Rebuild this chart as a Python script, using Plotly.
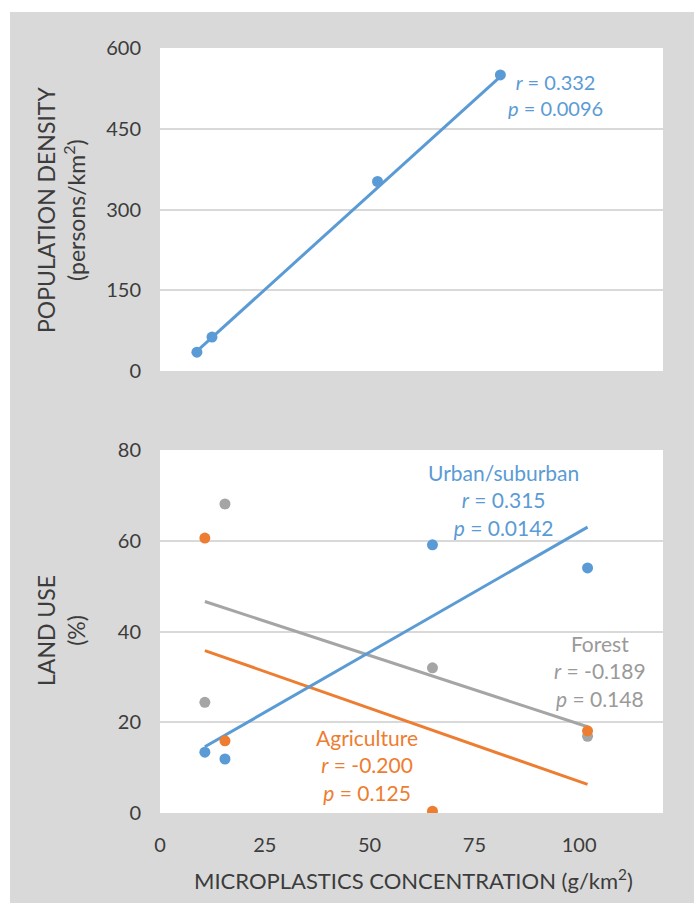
import plotly.graph_objects as go

# ---------------- data ----------------
# Top panel: population density vs microplastics
pop_x = [8.8, 12.4, 51.9, 81.2]
pop_y = [35, 63, 352, 550]
pop_trend_x = [8.8, 81.2]
pop_trend_y = [37, 547]

# Bottom panel: land use vs microplastics
land_x = [10.7, 15.5, 65.0, 102.0]
urban_y = [13.4, 11.9, 59.1, 54.0]
forest_y = [24.4, 68.1, 32.0, 16.9]
agri_y = [60.6, 15.9, 0.4, 18.1]

trend_x = [10.7, 102.0]
urban_trend_y = [14.6, 63.0]
forest_trend_y = [46.6, 19.0]
agri_trend_y = [35.8, 6.3]

x_ticks = [0, 25, 50, 75, 100]
pop_ticks = [0, 150, 300, 450, 600]
land_ticks = [0, 20, 40, 60, 80]

BLUE = "#5b9bd5"
ORANGE = "#ed7d31"
GRAY = "#a5a5a5"
TXT = "#3c3c3c"
FONT = "Lato"

# ---------------- figure ----------------
W, H = 694, 903
ML, MR, MT, MB = 160, 31, 48, 90
PW = W - ML - MR
PH = H - MT - MB


def px_x(p):
    return (p - ML) / PW


def px_y(p):
    return (H - MB - p) / PH


fig = go.Figure()

marker = dict(size=11)
lw = 3

# top panel
fig.add_trace(go.Scatter(x=pop_trend_x, y=pop_trend_y, mode="lines",
                         line=dict(color=BLUE, width=lw), xaxis="x", yaxis="y",
                         showlegend=False, hoverinfo="skip"))
fig.add_trace(go.Scatter(x=pop_x, y=pop_y, mode="markers",
                         marker=dict(color=BLUE, **marker), xaxis="x", yaxis="y",
                         showlegend=False))

# bottom panel: trend lines
for ty, c in [(forest_trend_y, GRAY), (agri_trend_y, ORANGE), (urban_trend_y, BLUE)]:
    fig.add_trace(go.Scatter(x=trend_x, y=ty, mode="lines",
                             line=dict(color=c, width=lw), xaxis="x2", yaxis="y2",
                             showlegend=False, hoverinfo="skip"))
# bottom panel: points
for yy, c in [(forest_y, GRAY), (agri_y, ORANGE), (urban_y, BLUE)]:
    fig.add_trace(go.Scatter(x=land_x, y=yy, mode="markers",
                             marker=dict(color=c, **marker), xaxis="x2", yaxis="y2",
                             showlegend=False))

top_dom = [px_y(371), 1.0]
bot_dom = [0.0, px_y(450)]

axis_common = dict(showline=False, zeroline=False, ticks="",
                   tickfont=dict(family=FONT, size=20, color=TXT),
                   ticklabelstandoff=18)

fig.update_layout(
    width=W, height=H,
    margin=dict(l=ML, r=MR, t=MT, b=MB),
    paper_bgcolor="#d9d9d9",
    plot_bgcolor="white",
    font=dict(family=FONT, color=TXT),
    xaxis=dict(domain=[0, 1], range=[0, 120], tickvals=x_ticks, showticklabels=False,
               showgrid=False, anchor="y", **axis_common),
    yaxis=dict(domain=top_dom, range=[0, 600], tickvals=pop_ticks, showgrid=True,
               gridcolor="#d9d9d9", gridwidth=1.5, anchor="x", **axis_common),
    xaxis2=dict(domain=[0, 1], range=[0, 120], tickvals=x_ticks, showgrid=False,
                anchor="y2", **axis_common),
    yaxis2=dict(domain=bot_dom, range=[0, 80], tickvals=land_ticks, showgrid=True,
                gridcolor="#d9d9d9", gridwidth=1.5, anchor="x2", **axis_common),
    shapes=[
        dict(type="rect", xref="paper", yref="paper", x0=-1, x1=px_x(10), y0=-1, y1=2,
             fillcolor="white", line=dict(width=0), layer="below"),
        dict(type="rect", xref="paper", yref="paper", x0=-1, x1=2, y0=px_y(12), y1=2,
             fillcolor="white", line=dict(width=0), layer="below"),
    ],
)

ann = []
# axis titles
ann.append(dict(xref="paper", yref="paper", x=px_x(61), y=px_y(210),
                text="POPULATION DENSITY<br>(persons/km<sup>2</sup>)", textangle=-90,
                showarrow=False, xanchor="center", yanchor="middle",
                font=dict(family=FONT, size=23, color=TXT)))
ann.append(dict(xref="paper", yref="paper", x=px_x(61), y=px_y(631),
                text="LAND USE<br>(%)", textangle=-90,
                showarrow=False, xanchor="center", yanchor="middle",
                font=dict(family=FONT, size=23, color=TXT)))
ann.append(dict(xref="paper", yref="paper", x=px_x(413), y=px_y(880),
                text="MICROPLASTICS CONCENTRATION (g/km<sup>2</sup>)",
                showarrow=False, xanchor="center", yanchor="middle",
                font=dict(family=FONT, size=22, color=TXT)))
# stats labels
ann.append(dict(xref="x", yref="y", x=94.3, y=513,
                text="<i>r</i> = 0.332<br><i>p</i> = 0.0096", showarrow=False,
                xanchor="center", yanchor="middle",
                font=dict(family=FONT, size=20, color=BLUE)))
ann.append(dict(xref="x2", yref="y2", x=82, y=69,
                text="Urban/suburban<br><i>r</i> = 0.315<br><i>p</i> = 0.0142",
                showarrow=False, xanchor="center", yanchor="middle",
                font=dict(family=FONT, size=21, color=BLUE)))
ann.append(dict(xref="x2", yref="y2", x=105, y=31.3,
                text="Forest<br><i>r</i> = -0.189<br><i>p</i> = 0.148",
                showarrow=False, xanchor="center", yanchor="middle",
                font=dict(family=FONT, size=21, color="#9a9a9a")))
ann.append(dict(xref="x2", yref="y2", x=49.3, y=10.6,
                text="Agriculture<br><i>r</i> = -0.200<br><i>p</i> = 0.125",
                showarrow=False, xanchor="center", yanchor="middle",
                font=dict(family=FONT, size=21, color=ORANGE)))
fig.update_layout(annotations=ann)

fig.write_html("out.html", config={"displayModeBar": False},
               post_script="document.body.style.margin='0';")
